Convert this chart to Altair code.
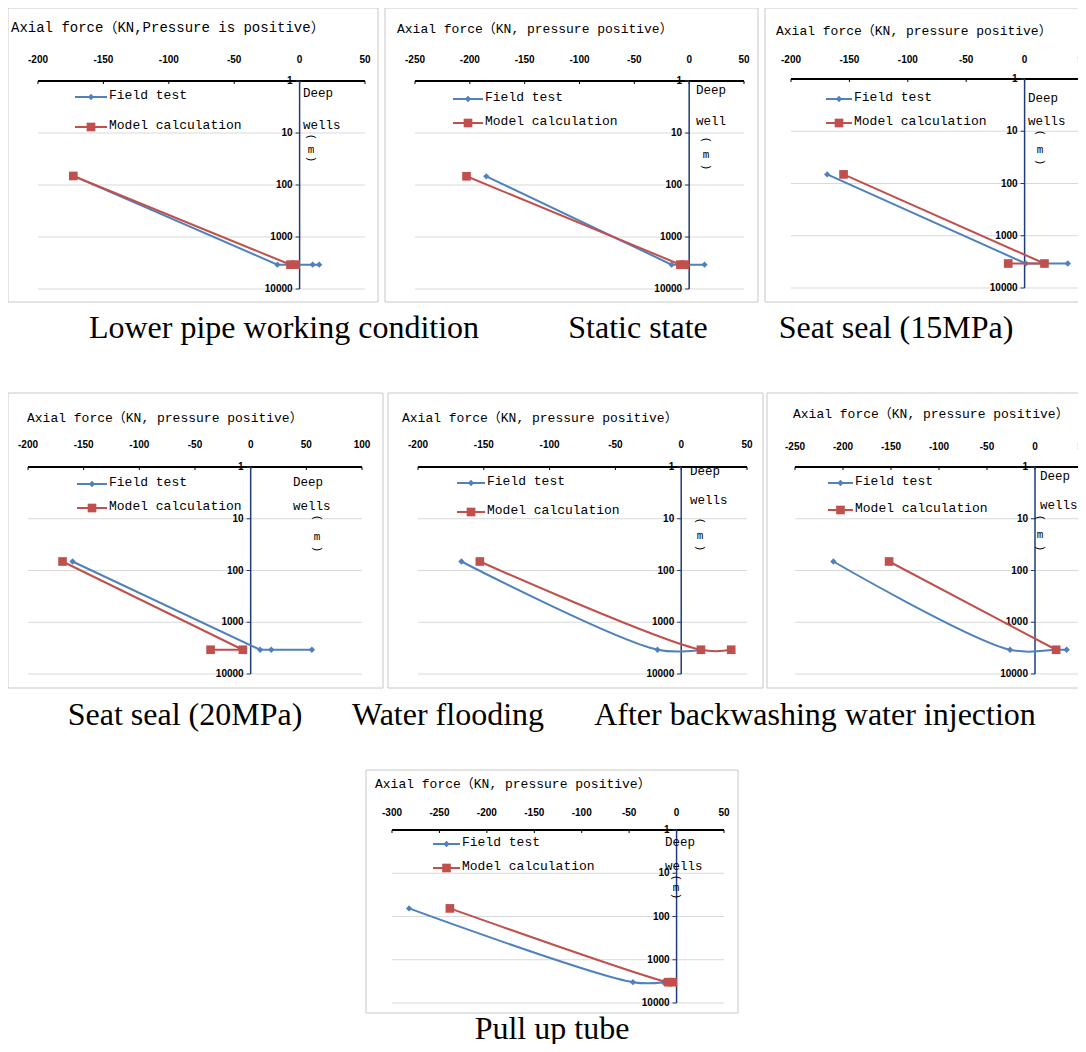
import altair as alt
import pandas as pd

# ---------------- data ----------------
SERIES = ["Field test", "Model calculation"]
COLORS = ["#4F81BD", "#C0504D"]
DEPTH_TICKS = [1, 10, 100, 1000, 10000]
DEPTH_LABELS = ["1", "10", "100", "1000", "10000"]
GRID_DEPTHS = [10, 100, 1000, 10000]

TITLES = ["Axial force（KN,Pressure is positive）"] + ["Axial force（KN, pressure positive）"] * 6
DEPTH_WORDS = [["Deep", "wells"], ["Deep", "well"], ["Deep", "wells"], ["Deep", "wells"],
               ["Deep", "wells"], ["Deep", "wells"], ["Deep", "wells"]]
UNIT_CHARS = ["(", "m", ")"]
CAPTIONS = ["Lower pipe working condition", "Static state", "Seat seal (15MPa)",
            "Seat seal (20MPa)", "Water flooding", "After backwashing water injection",
            "Pull up tube"]

X_DOMAINS = [(-200, 50), (-250, 50), (-200, 50), (-200, 100), (-200, 50), (-250, 50), (-300, 50)]
X_TICKS = [
    [-200, -150, -100, -50, 0, 50],
    [-250, -200, -150, -100, -50, 0, 50],
    [-200, -150, -100, -50, 0, 50],
    [-200, -150, -100, -50, 0, 50, 100],
    [-200, -150, -100, -50, 0, 50],
    [-250, -200, -150, -100, -50, 0, 50],
    [-300, -250, -200, -150, -100, -50, 0, 50],
]

FIELD_FORCE = [
    [-173, -17, -3, 10, 15],
    [-185, -16, -6, 14],
    [-169, 1, 37],
    [-160, 8.5, 18.5, 55],
    [-167, -18, 15],
    [-210, -26, 22, 33],
    [-282, -46, -14],
]
FIELD_DEPTH = [
    [67, 3400, 3400, 3400, 3400],
    [68, 3400, 3400, 3400],
    [67, 3400, 3400],
    [67, 3400, 3400, 3400],
    [67, 3400, 3400],
    [67, 3400, 3400, 3400],
    [65, 3300, 3300],
]
MODEL_FORCE = [
    [-173, -7, -3],
    [-203, -8, -4],
    [-155, 17, -14],
    [-169, -7, -36],
    [-153, 15, 38],
    [-152, 22],
    [-239, -9, -4],
]
MODEL_DEPTH = [
    [67, 3400, 3400],
    [68, 3400, 3400],
    [67, 3400, 3400],
    [67, 3400, 3400],
    [67, 3400, 3400],
    [67, 3400],
    [65, 3300, 3300],
]

# ---------------- layout / style (page pixels) ----------------
MONO = "Liberation Mono, Noto Sans CJK SC"
SANS = "Liberation Sans, Arial"
SERIF = "Liberation Serif, Times New Roman"
NAVY = "#1F3D7A"
M = 8  # page margin

LAYOUT = [
    dict(plot=(38, 365, 81, 289), box=(8, 378, 8, 302), title=(11, 30, 14), laby=60,
         leg=(75, 107, 97, 127), deep=(303, 95, 127), par=(311, 137, 150, 159), interp="linear"),
    dict(plot=(415, 744, 81, 289), box=(385, 758, 8, 302), title=(397, 31, 13), laby=60,
         leg=(453, 483, 99, 123), deep=(696, 92, 123), par=(706, 140, 155, 167), interp="linear"),
    dict(plot=(791, 1083, 79, 288), box=(765, 1085, 8, 302), title=(776, 33, 13), laby=60,
         leg=(826, 852, 99, 123), deep=(1028, 100, 123), par=(1040, 133, 150, 162), interp="linear"),
    dict(plot=(28, 362, 467, 674), box=(8, 383, 393, 688), title=(27, 420, 13), laby=445,
         leg=(77, 107, 484, 508), deep=(293, 484, 508), par=(317, 518, 537, 549), interp="linear"),
    dict(plot=(418, 747, 467, 674), box=(388, 763, 393, 688), title=(402, 420, 13), laby=445,
         leg=(457, 485, 483, 512), deep=(690, 473, 502), par=(700, 521, 536, 548), interp="catmull-rom"),
    dict(plot=(795, 1083, 467, 674), box=(767, 1085, 393, 688), title=(793, 416, 13), laby=447,
         leg=(828, 853, 483, 510), deep=(1040, 478, 507), par=(1040, 518, 535, 548), interp="catmull-rom"),
    dict(plot=(392, 724, 830, 1003), box=(366, 738, 770, 1013), title=(375, 786, 13), laby=813,
         leg=(433, 460, 844, 868), deep=(665, 844, 868), par=(676, 878, 888, 896), interp="catmull-rom"),
]
CAPTION_POS = [(284, 328), (638, 328), (896, 328), (185, 715), (448, 715), (815, 715), (552, 1029)]

MARKS = {
    "Field test": dict(shape="diamond", size=40),
    "Model calculation": dict(shape="square", size=75),
}

ONE = pd.DataFrame({"a": [0]})
MONO_DY = -2


def px(v):
    return v - M


def series_df(forces, depths, name):
    return pd.DataFrame({"force": forces, "depth": depths, "series": name,
                         "idx": list(range(len(forces)))})


def panel(i):
    cfg = LAYOUT[i]
    xmin, xmax = X_DOMAINS[i]
    x0, x1, y0, y1 = cfg["plot"]
    xs = alt.Scale(domain=[xmin, xmax], range=[px(x0), px(x1)], nice=False, zero=False)
    ys = alt.Scale(type="log", domain=[1, 10000], range=[px(y0), px(y1)], nice=False)
    L = []

    # chart-area border
    bx0, bx1, by0, by1 = cfg["box"]
    L.append(alt.Chart(ONE).mark_rect(fillOpacity=0, stroke="#c8c8c8", strokeWidth=1).encode(
        x=alt.value(px(bx0)), x2=alt.value(px(bx1)), y=alt.value(px(by0)), y2=alt.value(px(by1))))

    # horizontal grid lines
    gdf = pd.DataFrame({"depth": GRID_DEPTHS})
    L.append(alt.Chart(gdf).mark_rule(color="#d9d9d9", strokeWidth=1).encode(
        y=alt.Y("depth:Q", scale=ys, axis=None),
        x=alt.datum(xmin), x2=alt.datum(xmax)))

    # top force axis
    L.append(alt.Chart(ONE).mark_rule(color="black", strokeWidth=2).encode(
        x=alt.datum(xmin), x2=alt.datum(xmax), y=alt.datum(1)))
    tdf = pd.DataFrame({"force": X_TICKS[i], "label": [str(v) for v in X_TICKS[i]]})
    L.append(alt.Chart(tdf).mark_point(shape="M 0 0 L 0 1", size=36, filled=False, color="black",
                                       strokeWidth=1, opacity=1).encode(
        x=alt.X("force:Q", scale=xs, axis=None), y=alt.datum(1)))
    L.append(alt.Chart(tdf).mark_text(align="center", baseline="middle", font=SANS, fontSize=10,
                                      fontWeight="bold", color="black").encode(
        x=alt.X("force:Q", scale=xs, axis=None), y=alt.value(px(cfg["laby"])), text="label:N"))
    tx, ty, tfs = cfg["title"]
    L.append(alt.Chart(pd.DataFrame({"t": [TITLES[i]]})).mark_text(
        align="left", baseline="middle", dy=MONO_DY, font=MONO, fontSize=tfs, color="black").encode(
        x=alt.value(px(tx)), y=alt.value(px(ty)), text="t:N"))

    # vertical depth axis at force = 0
    L.append(alt.Chart(ONE).mark_rule(color=NAVY, strokeWidth=1.5).encode(
        x=alt.datum(0), y=alt.datum(1), y2=alt.datum(10000)))
    ddf = pd.DataFrame({"depth": DEPTH_TICKS, "label": DEPTH_LABELS})
    L.append(alt.Chart(ddf).mark_point(shape="M -1 0 L 0 0", size=64, filled=False, color=NAVY,
                                       strokeWidth=1, opacity=1).encode(
        x=alt.datum(0), y=alt.Y("depth:Q", scale=ys, axis=None)))
    L.append(alt.Chart(ddf).mark_text(align="right", baseline="middle", dx=-7, font=SANS,
                                      fontSize=10, fontWeight="bold", color="black").encode(
        x=alt.datum(0), y=alt.Y("depth:Q", scale=ys, axis=None), text="label:N"))

    # depth title
    dxl, dy1, dy2 = cfg["deep"]
    for word, py in zip(DEPTH_WORDS[i], (dy1, dy2)):
        L.append(alt.Chart(pd.DataFrame({"t": [word]})).mark_text(
            align="left", baseline="middle", dy=MONO_DY, font=MONO, fontSize=12.5,
            color="black").encode(
            x=alt.value(px(dxl)), y=alt.value(px(py)), text="t:N"))
    pxc = cfg["par"][0]
    for ch, py in zip(UNIT_CHARS, cfg["par"][1:]):
        L.append(alt.Chart(pd.DataFrame({"t": [ch]})).mark_text(
            align="center", baseline="middle", font=MONO, fontSize=11,
            angle=0 if ch == "m" else 90, color="black").encode(
            x=alt.value(px(pxc)), y=alt.value(px(py)), text="t:N"))

    # legend
    lx0, lx1, ly1, ly2 = cfg["leg"]
    for name, col, ly in zip(SERIES, COLORS, (ly1, ly2)):
        ldf = pd.DataFrame({"series": [name]})
        L.append(alt.Chart(ldf).mark_rule(color=col, strokeWidth=2).encode(
            x=alt.value(px(lx0)), x2=alt.value(px(lx1)), y=alt.value(px(ly))))
        L.append(alt.Chart(ldf).mark_point(filled=True, color=col, opacity=1,
                                           shape=MARKS[name]["shape"],
                                           size=MARKS[name]["size"]).encode(
            x=alt.value(px((lx0 + lx1) / 2)), y=alt.value(px(ly))))
        L.append(alt.Chart(ldf).mark_text(align="left", baseline="middle", dy=MONO_DY, font=MONO,
                                          fontSize=13, color="black").encode(
            x=alt.value(px(lx1 + 2)), y=alt.value(px(ly)), text="series:N"))

    # data series
    dfs = [series_df(FIELD_FORCE[i], FIELD_DEPTH[i], SERIES[0]),
           series_df(MODEL_FORCE[i], MODEL_DEPTH[i], SERIES[1])]
    for df, name, col in zip(dfs, SERIES, COLORS):
        L.append(alt.Chart(df).mark_line(color=col, strokeWidth=2, interpolate=cfg["interp"]).encode(
            x=alt.X("force:Q", scale=xs, axis=None), y=alt.Y("depth:Q", scale=ys, axis=None),
            order=alt.Order("idx:Q")))
        L.append(alt.Chart(df).mark_point(filled=True, color=col, opacity=1,
                                          shape=MARKS[name]["shape"], size=MARKS[name]["size"]).encode(
            x=alt.X("force:Q", scale=xs, axis=None), y=alt.Y("depth:Q", scale=ys, axis=None)))
    return alt.layer(*L)


captions = []
for text, (cx, cy) in zip(CAPTIONS, CAPTION_POS):
    captions.append(alt.Chart(pd.DataFrame({"t": [text]})).mark_text(
        align="center", baseline="middle", font=SERIF, fontSize=32, color="black").encode(
        x=alt.value(px(cx)), y=alt.value(px(cy)), text="t:N"))

chart = alt.layer(*[panel(i) for i in range(7)], *captions).resolve_scale(
    x="independent", y="independent"
).properties(
    width=1070, height=1036, padding=0, background="white",
    autosize=alt.AutoSizeParams(type="none"),
).configure_view(stroke=None).configure_axis(disable=True)

chart.save("out.html", embed_options={"renderer": "svg", "actions": False})
